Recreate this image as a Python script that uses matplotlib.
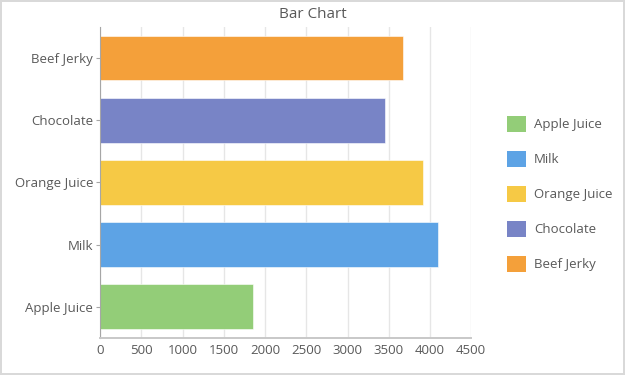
import matplotlib.pyplot as plt
from matplotlib.patches import Patch

plt.rcParams['font.family'] = ['Open Sans', 'DejaVu Sans']

categories = ['Apple Juice', 'Milk', 'Orange Juice', 'Chocolate', 'Beef Jerky']
values = [1860, 4100, 3910, 3450, 3670]
colors = ['#93CD78', '#5DA3E5', '#F6C945', '#7884C6', '#F4A03A']
x_ticks = [0, 500, 1000, 1500, 2000, 2500, 3000, 3500, 4000, 4500]

text_color = '#595959'

# Figure and axes
fig = plt.figure(figsize=(6.25, 3.75), dpi=100)
fig.patch.set_facecolor('white')
fig.patch.set_edgecolor('#d9d9d9')
fig.patch.set_linewidth(1.5)
ax = fig.add_axes([0.16, 0.0987, 0.594, 0.8293])

# Bars
bars = ax.barh(range(len(categories)), values, height=0.72, color=colors,
               edgecolor='white', linewidth=0.4, zorder=2)

# Axes ranges and ticks
ax.set_xlim(0, 4500)
ax.set_ylim(-0.5, len(categories) - 0.5)
ax.set_xticks(x_ticks)
ax.set_yticks(range(len(categories)), categories)
ax.tick_params(axis='x', length=0, pad=4, labelsize=9.5, labelcolor=text_color)
ax.tick_params(axis='y', length=3, width=0.8, color='#a6a6a6', pad=2,
               labelsize=9.5, labelcolor=text_color)

# Grid and spines
ax.grid(axis='x', color='#e6e6e6', linewidth=1, zorder=1)
ax.set_axisbelow(True)
ax.spines[['top', 'right']].set_visible(False)
ax.spines['left'].set_color('#a6a6a6')
ax.spines['bottom'].set_color('#c8c8c8')
ax.spines['bottom'].set_linewidth(1.4)

# Title
fig.text(0.5, 0.962, 'Bar Chart', ha='center', va='center',
         fontsize=11, color=text_color)

# Legend
handles = [Patch(facecolor=c, edgecolor='none') for c in colors]
ax.legend(handles, categories, loc='upper left', bbox_to_anchor=(0.803, 0.704),
          bbox_transform=fig.transFigure, frameon=False, fontsize=9.5,
          handlelength=1.45, handleheight=1.45, labelspacing=1.46,
          handletextpad=0.6, labelcolor=text_color, borderaxespad=0)

fig.savefig('out.png', dpi=100)
